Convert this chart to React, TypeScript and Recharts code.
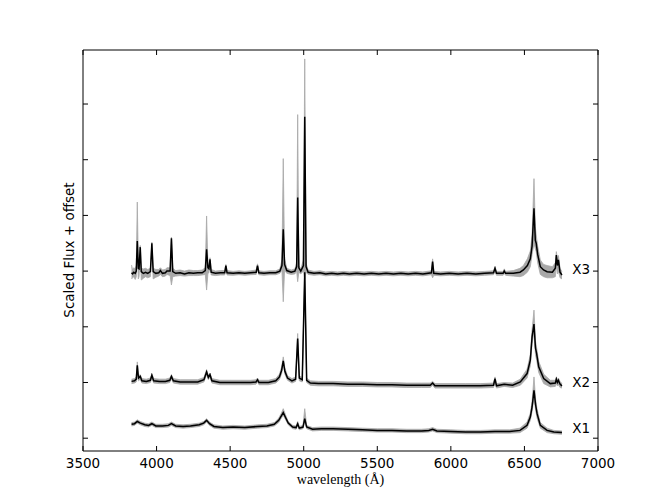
import React from 'react';
import { ComposedChart, Line, Area, XAxis, YAxis, ReferenceArea, ReferenceDot } from 'recharts';

// [wavelength, flux, lower envelope, upper envelope]
type Pt = [number, number, number, number];

const W = 664;
const H = 501;
const PLOT = { left: 83, right: 598, top: 50, bottom: 451 };
const AXIS_H = 20;
const AXIS_W = 10;
const SANS = '"DejaVu Sans", sans-serif';
const FS = 13.5;

const xTicks = [3500, 4000, 4500, 5000, 5500, 6000, 6500, 7000];
const yTicks = [0, 1, 2, 3, 4, 5, 6];
const xDomain = [3500, 7000];
const yDomain = [-0.23, 6.97];

const spectrumX1: Pt[] = [
  [3830, 0.25, 0.22, 0.28], [3850, 0.26, 0.23, 0.29], [3869, 0.3, 0.27, 0.33], [3890, 0.27, 0.24, 0.3],
  [3920, 0.24, 0.21, 0.27], [3945, 0.23, 0.2, 0.26], [3968, 0.26, 0.23, 0.29], [3995, 0.22, 0.19, 0.25],
  [4040, 0.22, 0.19, 0.25], [4080, 0.23, 0.2, 0.26], [4101, 0.26, 0.23, 0.29], [4130, 0.22, 0.19, 0.25],
  [4180, 0.21, 0.18, 0.24], [4230, 0.22, 0.19, 0.25], [4290, 0.24, 0.21, 0.27], [4320, 0.27, 0.24, 0.3],
  [4340, 0.32, 0.29, 0.35], [4360, 0.26, 0.23, 0.29], [4390, 0.21, 0.18, 0.24], [4450, 0.19, 0.16, 0.22],
  [4520, 0.2, 0.17, 0.23], [4600, 0.19, 0.16, 0.22], [4686, 0.21, 0.18, 0.24], [4750, 0.22, 0.19, 0.25],
  [4800, 0.25, 0.22, 0.28], [4830, 0.32, 0.28, 0.36], [4848, 0.4, 0.36, 0.45], [4861, 0.46, 0.41, 0.53],
  [4875, 0.38, 0.34, 0.43], [4895, 0.27, 0.24, 0.3], [4925, 0.2, 0.17, 0.23], [4948, 0.19, 0.16, 0.22],
  [4959, 0.26, 0.22, 0.3], [4970, 0.18, 0.15, 0.21], [4995, 0.2, 0.17, 0.23], [5007, 0.35, 0.3, 0.53],
  [5020, 0.2, 0.17, 0.23], [5060, 0.16, 0.13, 0.19], [5120, 0.17, 0.14, 0.2], [5200, 0.17, 0.14, 0.2],
  [5300, 0.16, 0.13, 0.19], [5400, 0.15, 0.12, 0.18], [5500, 0.14, 0.11, 0.17], [5600, 0.14, 0.11, 0.17],
  [5700, 0.13, 0.1, 0.16], [5800, 0.13, 0.1, 0.16], [5850, 0.14, 0.11, 0.17], [5876, 0.16, 0.13, 0.19],
  [5905, 0.13, 0.1, 0.16], [6000, 0.12, 0.09, 0.15], [6100, 0.11, 0.08, 0.14], [6200, 0.11, 0.08, 0.14],
  [6300, 0.12, 0.09, 0.15], [6400, 0.12, 0.09, 0.15], [6470, 0.14, 0.1, 0.18], [6518, 0.23, 0.18, 0.29],
  [6540, 0.38, 0.32, 0.45], [6552, 0.56, 0.48, 0.66], [6565, 0.86, 0.72, 1.1], [6576, 0.6, 0.5, 0.7],
  [6586, 0.44, 0.36, 0.52], [6608, 0.23, 0.18, 0.28], [6654, 0.14, 0.1, 0.18], [6700, 0.11, 0.08, 0.14],
  [6755, 0.1, 0.07, 0.13],
];

const spectrumX2: Pt[] = [
  [3830, 1.02, 0.98, 1.06], [3850, 1.03, 0.99, 1.07], [3862, 1.06, 1.01, 1.1], [3869, 1.31, 1.25, 1.37],
  [3877, 1.08, 1.03, 1.12], [3889, 1.11, 1.06, 1.14], [3900, 1.03, 0.99, 1.07], [3930, 1.02, 0.98, 1.06],
  [3958, 1.04, 1.0, 1.08], [3968, 1.13, 1.09, 1.16], [3980, 1.03, 0.99, 1.07], [4020, 1.02, 0.98, 1.06],
  [4060, 1.02, 0.98, 1.06], [4090, 1.04, 1.0, 1.08], [4101, 1.11, 1.07, 1.14], [4114, 1.03, 0.99, 1.07],
  [4160, 1.01, 0.97, 1.05], [4220, 1.01, 0.97, 1.05], [4280, 1.01, 0.97, 1.05], [4322, 1.05, 1.01, 1.09],
  [4340, 1.19, 1.14, 1.23], [4352, 1.09, 1.05, 1.13], [4363, 1.14, 1.1, 1.17], [4376, 1.03, 0.99, 1.07],
  [4430, 1.0, 0.96, 1.04], [4500, 1.0, 0.96, 1.04], [4570, 1.0, 0.96, 1.04], [4640, 1.0, 0.96, 1.04],
  [4676, 1.01, 0.97, 1.05], [4686, 1.05, 1.01, 1.08], [4696, 1.0, 0.96, 1.04], [4760, 1.0, 0.96, 1.04],
  [4810, 1.03, 0.99, 1.07], [4835, 1.1, 1.05, 1.15], [4850, 1.22, 1.16, 1.28], [4861, 1.39, 1.33, 1.46],
  [4872, 1.2, 1.15, 1.26], [4890, 1.08, 1.04, 1.12], [4920, 1.03, 0.99, 1.07], [4945, 1.06, 1.02, 1.1],
  [4959, 1.79, 1.7, 1.88], [4970, 1.08, 1.03, 1.12], [4990, 1.05, 1.01, 1.09], [5007, 2.98, 2.9, 3.0],
  [5020, 1.04, 1.0, 1.08], [5045, 0.99, 0.95, 1.03], [5100, 0.98, 0.94, 1.02], [5200, 0.98, 0.94, 1.02],
  [5300, 0.97, 0.93, 1.01], [5400, 0.97, 0.93, 1.01], [5500, 0.96, 0.92, 1.0], [5600, 0.96, 0.92, 1.0],
  [5700, 0.95, 0.91, 0.99], [5800, 0.95, 0.91, 0.99], [5860, 0.95, 0.91, 0.99], [5876, 0.99, 0.95, 1.02],
  [5892, 0.94, 0.9, 0.98], [6000, 0.94, 0.9, 0.98], [6100, 0.94, 0.9, 0.98], [6200, 0.94, 0.9, 0.98],
  [6290, 0.95, 0.91, 0.99], [6300, 1.07, 1.02, 1.1], [6310, 0.94, 0.9, 0.98], [6363, 0.97, 0.93, 1.0],
  [6420, 0.95, 0.91, 0.99], [6472, 1.01, 0.95, 1.06], [6518, 1.16, 1.08, 1.24], [6540, 1.4, 1.3, 1.5],
  [6552, 1.82, 1.7, 1.95], [6565, 2.05, 1.9, 2.3], [6575, 1.62, 1.5, 1.75], [6583, 1.52, 1.4, 1.62],
  [6597, 1.28, 1.18, 1.38], [6631, 1.07, 0.98, 1.15], [6676, 0.98, 0.92, 1.04], [6710, 0.99, 0.93, 1.04],
  [6717, 1.06, 0.98, 1.1], [6724, 1.0, 0.94, 1.05], [6731, 1.04, 0.96, 1.08], [6742, 0.97, 0.91, 1.02],
  [6755, 0.94, 0.9, 0.98],
];

const spectrumX3: Pt[] = [
  [3830, 2.97, 2.86, 3.11], [3837, 2.95, 2.88, 3.02], [3845, 2.98, 2.9, 3.06], [3855, 2.96, 2.85, 3.04],
  [3862, 3.0, 2.9, 3.1], [3869, 3.54, 3.3, 4.24], [3876, 3.05, 2.86, 3.15], [3881, 3.04, 2.9, 3.1],
  [3889, 3.43, 3.3, 3.46], [3896, 2.99, 2.84, 3.05], [3910, 2.96, 2.87, 3.04], [3925, 2.98, 2.9, 3.05],
  [3940, 2.96, 2.88, 3.03], [3958, 2.99, 2.9, 3.05], [3968, 3.5, 3.42, 3.52], [3977, 2.99, 2.86, 3.05],
  [3995, 2.96, 2.89, 3.03], [4015, 2.97, 2.91, 3.03], [4026, 3.01, 2.94, 3.06], [4040, 2.96, 2.9, 3.02],
  [4060, 2.97, 2.91, 3.03], [4070, 3.0, 2.94, 3.06], [4092, 3.0, 2.92, 3.06], [4101, 3.59, 2.75, 3.61],
  [4110, 2.99, 2.9, 3.05], [4130, 2.96, 2.91, 3.01], [4160, 2.97, 2.92, 3.02], [4190, 2.95, 2.91, 3.0],
  [4220, 2.97, 2.92, 3.02], [4250, 2.96, 2.92, 3.01], [4280, 2.97, 2.92, 3.01], [4310, 2.97, 2.93, 3.02],
  [4331, 3.01, 2.94, 3.06], [4340, 3.39, 2.66, 3.99], [4349, 3.06, 2.96, 3.1], [4356, 3.04, 2.97, 3.08],
  [4363, 3.21, 3.15, 3.24], [4371, 2.98, 2.93, 3.03], [4400, 2.96, 2.92, 3.0], [4435, 2.97, 2.93, 3.01],
  [4463, 2.97, 2.93, 3.01], [4471, 3.1, 3.05, 3.12], [4479, 2.97, 2.93, 3.01], [4520, 2.96, 2.925, 2.995],
  [4560, 2.97, 2.935, 3.005], [4600, 2.96, 2.925, 2.995], [4640, 2.97, 2.935, 3.005], [4677, 2.98, 2.94, 3.02],
  [4686, 3.1, 3.05, 3.13], [4695, 2.97, 2.935, 3.005], [4730, 2.96, 2.925, 2.995], [4770, 2.97, 2.935, 3.005],
  [4810, 2.97, 2.935, 3.005], [4838, 3.0, 2.96, 3.04], [4852, 3.1, 3.02, 3.2], [4861, 3.75, 2.45, 5.02],
  [4870, 3.12, 3.02, 3.22], [4885, 3.01, 2.96, 3.05], [4915, 2.98, 2.94, 3.02], [4940, 3.0, 2.95, 3.04],
  [4952, 3.08, 3.0, 3.15], [4959, 4.32, 2.81, 5.81], [4967, 3.06, 2.98, 3.1], [4980, 3.0, 2.95, 3.04],
  [4998, 3.1, 3.0, 3.2], [5007, 5.77, 2.86, 6.81], [5016, 3.08, 2.98, 3.14], [5030, 2.98, 2.94, 3.02],
  [5070, 2.96, 2.925, 2.995], [5110, 2.97, 2.935, 3.005], [5150, 2.95, 2.915, 2.985], [5190, 2.96, 2.925, 2.995],
  [5230, 2.95, 2.915, 2.985], [5270, 2.96, 2.925, 2.995], [5310, 2.95, 2.915, 2.985], [5360, 2.96, 2.925, 2.995],
  [5410, 2.95, 2.915, 2.985], [5460, 2.96, 2.925, 2.995], [5510, 2.95, 2.915, 2.985], [5560, 2.96, 2.925, 2.995],
  [5610, 2.95, 2.915, 2.985], [5660, 2.96, 2.925, 2.995], [5710, 2.95, 2.915, 2.985], [5760, 2.96, 2.925, 2.995],
  [5810, 2.95, 2.915, 2.985], [5868, 2.97, 2.935, 3.005], [5876, 3.17, 2.88, 3.22], [5884, 2.96, 2.925, 2.995],
  [5930, 2.95, 2.915, 2.985], [5990, 2.96, 2.925, 2.995], [6050, 2.95, 2.915, 2.985], [6110, 2.96, 2.925, 2.995],
  [6170, 2.95, 2.915, 2.985], [6230, 2.96, 2.925, 2.995], [6290, 2.97, 2.935, 3.005], [6300, 3.05, 3.0, 3.08],
  [6310, 2.96, 2.925, 2.995], [6355, 2.96, 2.925, 2.995], [6363, 3.0, 2.96, 3.04], [6372, 2.96, 2.925, 2.995],
  [6425, 2.96, 2.91, 3.01], [6470, 2.98, 2.9, 3.05], [6493, 3.02, 2.92, 3.1], [6520, 3.1, 2.98, 3.22],
  [6540, 3.22, 3.08, 3.36], [6552, 3.45, 3.3, 3.65], [6565, 4.13, 3.5, 4.66], [6574, 3.55, 3.4, 3.8],
  [6580, 3.5, 3.35, 3.65], [6590, 3.3, 3.15, 3.45], [6608, 3.08, 2.94, 3.2], [6630, 3.02, 2.9, 3.12],
  [6654, 2.99, 2.88, 3.1], [6690, 2.98, 2.88, 3.08], [6710, 3.05, 2.9, 3.15], [6717, 3.29, 3.1, 3.35],
  [6724, 3.1, 2.95, 3.2], [6731, 3.2, 3.0, 3.28], [6742, 2.98, 2.88, 3.05], [6755, 2.93, 2.86, 2.99],
];

const seriesNames = ['X1', 'X2', 'X3'];
const labelY = [0.175, 1.01, 3.03];
const labelX = 6785;

const toRows = (pts: Pt[]) => pts.map(([w, f, lo, hi]) => ({ w, f, band: [lo, hi] }));
const spectra = [spectrumX1, spectrumX2, spectrumX3].map(toRows);

// matplotlib style: ticks point inward on all four sides
const XTick = (props: any) => {
  const { x, payload } = props;
  return (
    <g>
      <line x1={x} x2={x} y1={PLOT.bottom} y2={PLOT.bottom - 5} stroke="#000" />
      <line x1={x} x2={x} y1={PLOT.top} y2={PLOT.top + 5} stroke="#000" />
      <text x={x} y={PLOT.bottom + 17} textAnchor="middle" fontSize={FS} fontFamily={SANS} fill="#000">
        {payload.value}
      </text>
    </g>
  );
};

const YTick = (props: any) => {
  const { y } = props;
  return (
    <g>
      <line x1={PLOT.left} x2={PLOT.left + 5} y1={y} y2={y} stroke="#000" />
      <line x1={PLOT.right} x2={PLOT.right - 5} y1={y} y2={y} stroke="#000" />
    </g>
  );
};

export default function App() {
  return (
    <div style={{ position: 'absolute', left: 0, top: 0, width: W, height: H, background: '#fff' }}>
      <ComposedChart
        width={W}
        height={H}
        margin={{
          top: PLOT.top,
          right: W - PLOT.right,
          bottom: H - PLOT.bottom - AXIS_H,
          left: PLOT.left - AXIS_W,
        }}
      >
        <XAxis
          type="number"
          dataKey="w"
          domain={xDomain}
          ticks={xTicks}
          height={AXIS_H}
          axisLine={false}
          tickLine={false}
          tick={XTick}
          interval={0}
          allowDataOverflow
        />
        <YAxis
          type="number"
          domain={yDomain}
          ticks={yTicks}
          width={AXIS_W}
          axisLine={false}
          tickLine={false}
          tick={YTick}
          interval={0}
          allowDataOverflow
        />
        {spectra.map((rows, i) => (
          <Area
            key={'band' + i}
            data={rows}
            dataKey="band"
            type="linear"
            stroke="#a8a8a8"
            strokeWidth={0.8}
            fill="#a8a8a8"
            fillOpacity={1}
            isAnimationActive={false}
            dot={false}
            activeDot={false}
          />
        ))}
        {spectra.map((rows, i) => (
          <Line
            key={'line' + i}
            data={rows}
            dataKey="f"
            type="linear"
            stroke="#000"
            strokeWidth={1.5}
            dot={false}
            activeDot={false}
            isAnimationActive={false}
          />
        ))}
        {seriesNames.map((name, i) => (
          <ReferenceDot
            key={name}
            x={labelX}
            y={labelY[i]}
            r={0.01}
            fill="none"
            stroke="none"
            label={{ value: name, position: 'right', offset: 6, fill: '#000', fontSize: FS, fontFamily: SANS }}
          />
        ))}
        <ReferenceArea
          x1={xDomain[0]}
          x2={xDomain[1]}
          y1={yDomain[0]}
          y2={yDomain[1]}
          fill="none"
          stroke="#000"
          strokeWidth={1}
        />
      </ComposedChart>
      <div
        style={{
          position: 'absolute',
          left: 69,
          top: 250,
          transform: 'translate(-50%, -50%) rotate(-90deg)',
          whiteSpace: 'nowrap',
          fontFamily: SANS,
          fontSize: FS,
          color: '#000',
        }}
      >
        Scaled Flux + offset
      </div>
      <div
        style={{
          position: 'absolute',
          left: (PLOT.left + PLOT.right) / 2,
          top: 480,
          transform: 'translate(-50%, -50%)',
          whiteSpace: 'nowrap',
          fontFamily: '"Liberation Serif", serif',
          fontSize: 14,
          color: '#000',
        }}
      >
        wavelength (Å)
      </div>
    </div>
  );
}
